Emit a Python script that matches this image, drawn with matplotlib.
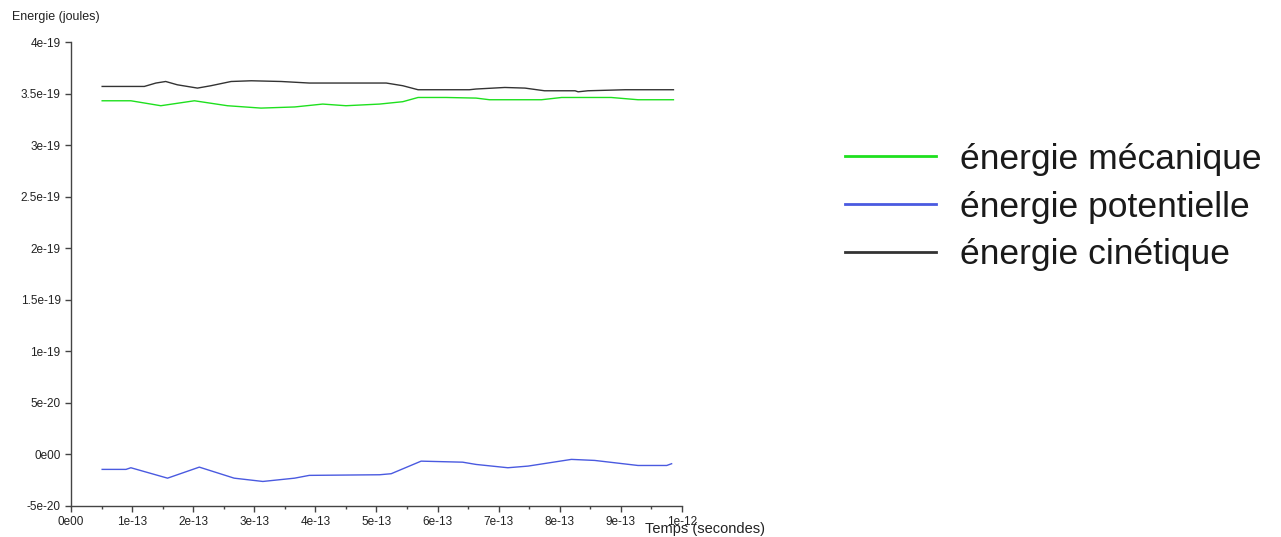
import matplotlib
matplotlib.use("Agg")
import matplotlib.pyplot as plt
import numpy as np

plt.rcParams['font.family'] = ['Liberation Sans', 'DejaVu Sans']

# Time in units of 1e-13 s, energies in units of 1e-20 J
t_kin = [0.51, 1.20, 1.39, 1.55, 1.74, 2.07, 2.29, 2.62, 2.95, 3.44, 3.90,
         5.16, 5.43, 5.68, 6.52, 6.63, 7.10, 7.43, 7.75, 8.25, 8.30, 8.46,
         9.07, 9.86]
e_kin = [35.69, 35.69, 36.02, 36.17, 35.85, 35.53, 35.76, 36.17, 36.24, 36.17,
         36.02, 36.02, 35.76, 35.37, 35.37, 35.44, 35.59, 35.53, 35.27, 35.27,
         35.17, 35.27, 35.37, 35.37]

t_mec = [0.51, 0.98, 1.47, 2.02, 2.56, 3.11, 3.66, 4.12, 4.50, 5.05, 5.43,
         5.68, 6.14, 6.63, 6.85, 7.70, 8.03, 8.84, 9.28, 9.86]
e_mec = [34.30, 34.30, 33.82, 34.30, 33.82, 33.59, 33.70, 33.98, 33.82, 33.98,
         34.21, 34.62, 34.62, 34.56, 34.40, 34.40, 34.62, 34.62, 34.40, 34.40]

t_pot = [0.51, 0.90, 0.98, 1.58, 2.10, 2.67, 3.14, 3.66, 3.90, 5.05, 5.24,
         5.73, 6.41, 6.63, 7.15, 7.48, 8.19, 8.57, 9.28, 9.75, 9.83]
e_pot = [-1.45, -1.45, -1.29, -2.30, -1.23, -2.30, -2.62, -2.30, -2.03, -1.97,
         -1.87, -0.65, -0.75, -0.97, -1.29, -1.13, -0.48, -0.58, -1.07, -1.07,
         -0.90]

x_ticks = [0, 1, 2, 3, 4, 5, 6, 7, 8, 9, 10]
x_tick_labels = ["0e00", "1e-13", "2e-13", "3e-13", "4e-13", "5e-13", "6e-13",
                 "7e-13", "8e-13", "9e-13", "1e-12"]
y_ticks = [-5, 0, 5, 10, 15, 20, 25, 30, 35, 40]
y_tick_labels = ["-5e-20", "0e00", "5e-20", "1e-19", "1.5e-19", "2e-19",
                 "2.5e-19", "3e-19", "3.5e-19", "4e-19"]

labels = ["énergie mécanique", "énergie potentielle", "énergie cinétique"]
colors = ["#1ee01e", "#4a5ae0", "#333333"]

T = 1e-13
E = 1e-20

W, H = 1281, 537
fig = plt.figure(figsize=(W / 100, H / 100), dpi=100)
ax = fig.add_axes([71 / W, 1 - 506 / H, (682 - 71) / W, (506 - 42) / H])

l_mec, = ax.plot(np.array(t_mec) * T, np.array(e_mec) * E, color=colors[0], lw=1.0)
l_pot, = ax.plot(np.array(t_pot) * T, np.array(e_pot) * E, color=colors[1], lw=1.0)
l_kin, = ax.plot(np.array(t_kin) * T, np.array(e_kin) * E, color=colors[2], lw=1.0)

ax.set_xlim(0, 10 * T)
ax.set_ylim(-5 * E, 40 * E)
ax.set_xticks(np.array(x_ticks) * T)
ax.set_xticklabels(x_tick_labels)
ax.set_xticks((np.array(x_ticks[:-1]) + 0.5) * T, minor=True)
ax.set_yticks(np.array(y_ticks) * E)
ax.set_yticklabels(y_tick_labels)

for side in ("top", "right"):
    ax.spines[side].set_visible(False)
for side in ("left", "bottom"):
    ax.spines[side].set_color("#444444")
    ax.spines[side].set_linewidth(1.0)
ax.tick_params(which="major", direction="out", length=4.3, width=1.0,
               color="#444444", labelsize=8.5, labelcolor="#222222", pad=3.2)
ax.tick_params(which="minor", direction="out", length=2.5, width=1.0,
               color="#444444")

fig.text(12 / W, 1 - 17 / H, "Energie (joules)", fontsize=9, color="#222222",
         ha="left", va="center")
fig.text(645 / W, 1 - 529 / H, "Temps (secondes)", fontsize=10.5, color="#222222",
         ha="left", va="center")

leg = fig.legend([l_mec, l_pot, l_kin], labels, loc="center left",
                 bbox_to_anchor=(845 / W, 1 - 207 / H), frameon=False,
                 fontsize=25.5, handlelength=2.57, handletextpad=0.68,
                 labelspacing=0.42, borderaxespad=0, borderpad=0)
for line in leg.get_lines():
    line.set_linewidth(2.0)
for txt in leg.get_texts():
    txt.set_color("#1a1a1a")

fig.savefig("out.png", dpi=100)
